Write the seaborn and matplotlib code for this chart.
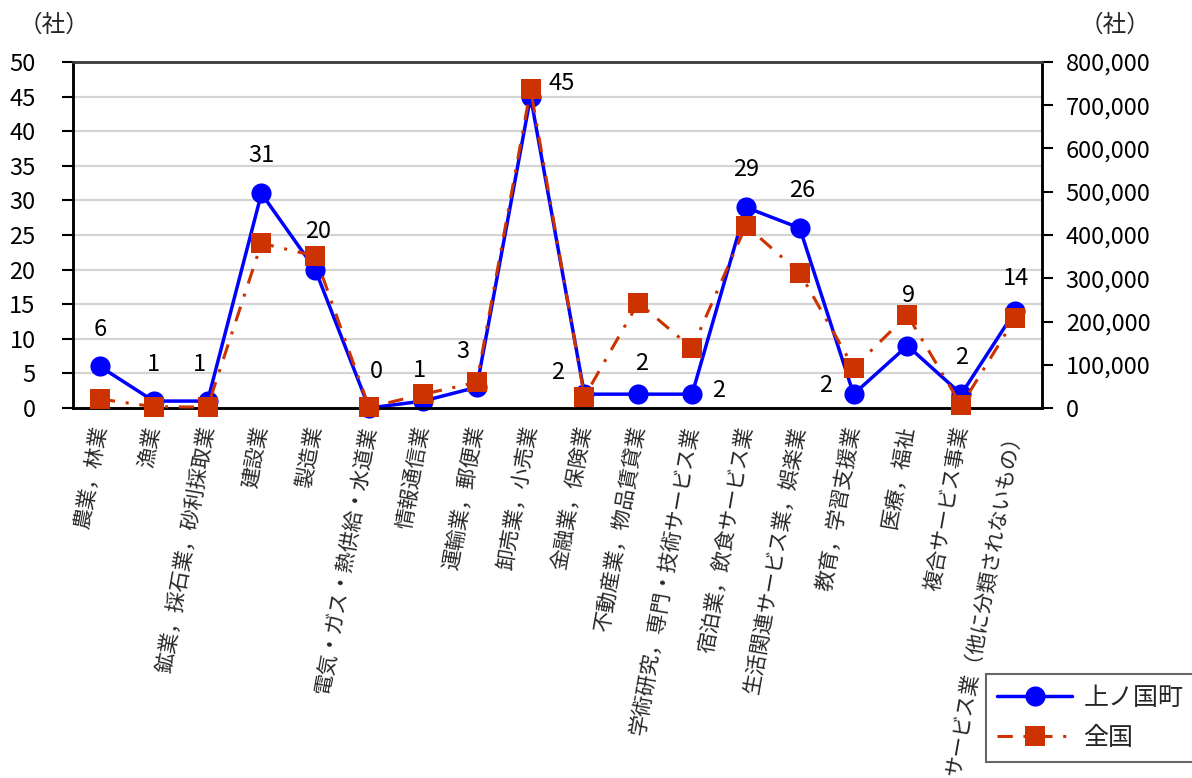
import numpy as np
import pandas as pd
import matplotlib
matplotlib.use("Agg")
import matplotlib.pyplot as plt
from matplotlib.lines import Line2D
import seaborn as sns

# 産業分類
categories = [
    "農業，林業",
    "漁業",
    "鉱業，採石業，砂利採取業",
    "建設業",
    "製造業",
    "電気・ガス・熱供給・水道業",
    "情報通信業",
    "運輸業，郵便業",
    "卸売業，小売業",
    "金融業，保険業",
    "不動産業，物品賃貸業",
    "学術研究，専門・技術サービス業",
    "宿泊業，飲食サービス業",
    "生活関連サービス業，娯楽業",
    "教育，学習支援業",
    "医療，福祉",
    "複合サービス事業",
    "サービス業（他に分類されないもの）",
]

# 上ノ国町の企業数（左軸）
town_counts = [6, 1, 1, 31, 20, 0, 1, 3, 45, 2, 2, 2, 29, 26, 2, 9, 2, 14]

# 全国の企業数（右軸）
national_counts = [20800, 3000, 2000, 380800, 351400, 1500, 31700, 59400, 736900,
                   26000, 243500, 138000, 421600, 312900, 93200, 215000, 6000, 207400]

left_ticks = [0, 5, 10, 15, 20, 25, 30, 35, 40, 45, 50]
right_ticks = [0, 100000, 200000, 300000, 400000, 500000, 600000, 700000, 800000]

series_names = ["上ノ国町", "全国"]
unit_label = "（社）"

# data label offsets (pixels) for the town series
label_offsets = [(0, 37), (0, 37), (-8, 37), (0, 38), (3, 38), (7, 37), (-3, 31),
                 (-14, 36), (31, 13), (-27, 22), (3, 31), (27, 4), (0, 38), (2, 38),
                 (-28, 9), (1, 50), (0, 37), (1, 33)]

sns.set_style("white")
plt.rcParams["font.family"] = ["Noto Sans CJK JP", "DejaVu Sans"]

BLUE = "#0000FF"
RED = "#CC3300"
DASHDOT = (0, (5, 3.5, 1, 3.5))

df = pd.DataFrame({
    "pos": np.arange(len(categories)),
    "town": town_counts,
    "national": national_counts,
})

fig = plt.figure(figsize=(11.92, 7.78), dpi=100)
ax = fig.add_axes([73 / 1192, 1 - 408 / 778, (1042 - 73) / 1192, (408 - 62) / 778])
ax2 = ax.twinx()

sns.lineplot(data=df, x="pos", y="town", ax=ax, color=BLUE, linewidth=2.5,
             marker="o", markersize=14.5, markeredgecolor=BLUE, markeredgewidth=0,
             clip_on=False, zorder=3)
sns.lineplot(data=df, x="pos", y="national", ax=ax2, color=RED, linewidth=2.2,
             marker="s", markersize=14, markeredgecolor=RED, markeredgewidth=0,
             clip_on=False, zorder=3)
ax2.get_lines()[0].set_linestyle(DASHDOT)

n = len(categories)
ax.set_xlim(-0.5, n - 0.5)
ax.set_ylim(0, 50)
ax2.set_ylim(0, 800000)

# left axis
ax.set_yticks(left_ticks)
ax.set_yticklabels([str(t) for t in left_ticks], fontsize=17)
ax.tick_params(axis="y", direction="out", length=8, width=1.5, pad=19, colors="black")
ax.grid(axis="y", color="#d4d4d4", linewidth=1.6)
ax.grid(axis="x", visible=False)
ax.set_axisbelow(True)

# right axis
ax2.set_yticks(right_ticks)
ax2.set_yticklabels([f"{t:,}" for t in right_ticks], fontsize=17)
ax2.tick_params(axis="y", direction="out", length=8, width=1.5, pad=9, colors="black")
ax2.grid(False)

# category axis: boundary ticks, labels at centres
ax.set_xticks(np.arange(n + 1) - 0.5)
ax.set_xticklabels([])
ax.tick_params(axis="x", which="major", direction="out", length=6, width=1.2)
ax.set_xticks(np.arange(n), minor=True)
ax.set_xticklabels(categories, minor=True, rotation=80, ha="right", va="center",
                   rotation_mode="anchor", fontsize=15)
ax.tick_params(axis="x", which="minor", length=0, pad=13)
ax.set_xlabel("")
ax.set_ylabel("")
ax2.set_ylabel("")

for a in (ax, ax2):
    for side in ("left", "right", "bottom"):
        a.spines[side].set_color("black")
        a.spines[side].set_linewidth(1.8)
    a.spines["top"].set_color("#404040")
    a.spines["top"].set_linewidth(1.8)

# data labels
for i, (v, (dx, dy)) in enumerate(zip(town_counts, label_offsets)):
    ax.annotate(str(v), (df["pos"][i], v), xytext=(dx, dy), textcoords="offset pixels",
                ha="center", va="center", fontsize=17, color="black", zorder=5)

# unit captions
fig.text(54 / 1192, 1 - 25 / 778, unit_label, ha="center", va="center", fontsize=17)
fig.text(1115 / 1192, 1 - 25 / 778, unit_label, ha="center", va="center", fontsize=17)

handles = [
    Line2D([], [], color=BLUE, linewidth=2.5, marker="o", markersize=14.5,
           markeredgewidth=0),
    Line2D([], [], color=RED, linewidth=2.2, linestyle=DASHDOT,
           marker="s", markersize=14, markeredgewidth=0),
]
leg = fig.legend(handles, series_names, loc="lower left",
                 bbox_to_anchor=(986 / 1192, 16 / 778), borderaxespad=0,
                 fontsize=18, frameon=True, fancybox=False, edgecolor="#404040",
                 handlelength=3.0, handletextpad=0.45, borderpad=0.45,
                 labelspacing=0.55)
leg.get_frame().set_linewidth(1.5)

fig.savefig("out.png", dpi=100)
